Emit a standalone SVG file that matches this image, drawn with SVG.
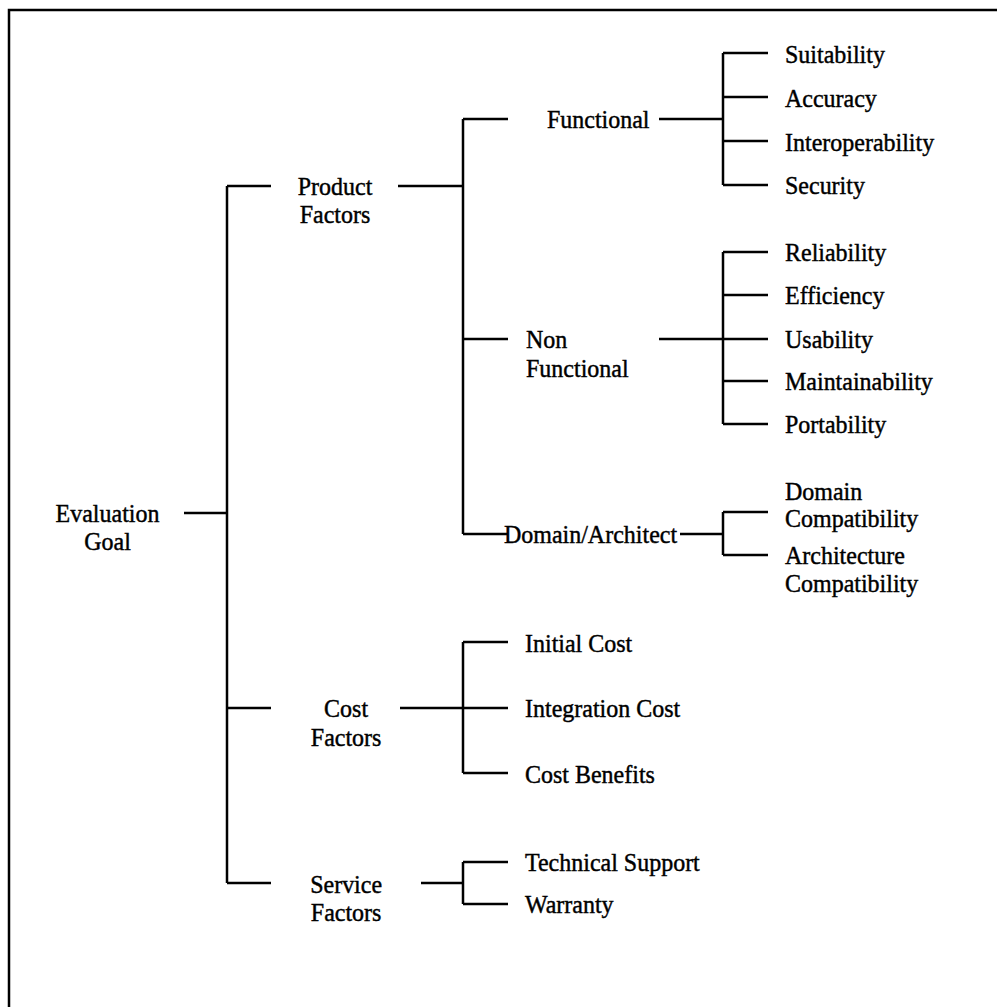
<svg xmlns="http://www.w3.org/2000/svg" width="997" height="1007" viewBox="0 0 997 1007">
  <style>
    .bg { fill: #ffffff; }
    .frame { fill: none; stroke: #000; stroke-width: 2.5; }
    .link { fill: none; stroke: #000; stroke-width: 2.5; stroke-linecap: butt; }
    text { font-family: "Liberation Serif", "Times New Roman", serif; font-size: 26px; fill: #000; stroke: #000; stroke-width: 0.45; }
    .c { text-anchor: middle; }
  </style>
  <rect class="bg" x="0" y="0" width="997" height="1007"/>
  <path class="frame" d="M9,1007 V10 H997"/>

  <g id="connectors">
    <!-- root -->
    <path class="link" d="M184,513 H227 M227,186 V883 M227,186 H271 M227,708 H271 M227,883 H271"/>
    <!-- product factors -->
    <path class="link" d="M398,186 H463 M463,119 V534 M463,119 H508 M463,339 H508 M463,534 H508"/>
    <!-- functional -->
    <path class="link" d="M659,119 H723 M723,53 V185 M723,53 H768 M723,97 H768 M723,141 H768 M723,185 H768"/>
    <!-- non functional -->
    <path class="link" d="M659,339 H723 M723,252 V424 M723,252 H768 M723,295 H768 M723,339 H768 M723,381 H768 M723,424 H768"/>
    <!-- domain / architecture -->
    <path class="link" d="M680,534 H723 M723,512 V555 M723,512 H768 M723,555 H768"/>
    <!-- cost factors -->
    <path class="link" d="M400,708 H463 M463,642 V773 M463,642 H508 M463,708 H508 M463,773 H508"/>
    <!-- service factors -->
    <path class="link" d="M421,883 H463 M463,862 V904 M463,862 H508 M463,904 H508"/>
  </g>

  <!-- labels use a slightly narrowed serif face: x coordinates are in the scaled space -->
  <g id="labels" transform="scale(0.923,1)">
    <g id="evaluation-goal"><text class="c" x="116.5" y="522">Evaluation</text><text class="c" x="116.5" y="550">Goal</text></g>

    <g id="product-factors"><text class="c" x="363" y="195">Product</text><text class="c" x="363" y="223">Factors</text></g>
    <g id="cost-factors"><text class="c" x="375" y="717">Cost</text><text class="c" x="375" y="746">Factors</text></g>
    <g id="service-factors"><text class="c" x="375" y="893">Service</text><text class="c" x="375" y="921">Factors</text></g>

    <g id="functional"><text x="592.6" y="128">Functional</text></g>
    <g id="non-functional"><text x="569.9" y="348">Non</text><text x="569.9" y="377">Functional</text></g>
    <g id="domain-architect"><text x="546" y="543">Domain/Architect</text></g>

    <g id="suitability"><text x="850.5" y="63">Suitability</text></g>
    <g id="accuracy"><text x="850.5" y="107">Accuracy</text></g>
    <g id="interoperability"><text x="850.5" y="151">Interoperability</text></g>
    <g id="security"><text x="850.5" y="194">Security</text></g>

    <g id="reliability"><text x="850.5" y="261">Reliability</text></g>
    <g id="efficiency"><text x="850.5" y="304">Efficiency</text></g>
    <g id="usability"><text x="850.5" y="348">Usability</text></g>
    <g id="maintainability"><text x="850.5" y="390">Maintainability</text></g>
    <g id="portability"><text x="850.5" y="433">Portability</text></g>

    <g id="domain-compatibility"><text x="850.5" y="500">Domain</text><text x="850.5" y="527">Compatibility</text></g>
    <g id="architecture-compatibility"><text x="850.5" y="564">Architecture</text><text x="850.5" y="592">Compatibility</text></g>

    <g id="initial-cost"><text x="568.8" y="652">Initial Cost</text></g>
    <g id="integration-cost"><text x="568.8" y="717">Integration Cost</text></g>
    <g id="cost-benefits"><text x="568.8" y="783">Cost Benefits</text></g>

    <g id="technical-support"><text x="568.8" y="871">Technical Support</text></g>
    <g id="warranty"><text x="568.8" y="913">Warranty</text></g>
  </g>
</svg>
